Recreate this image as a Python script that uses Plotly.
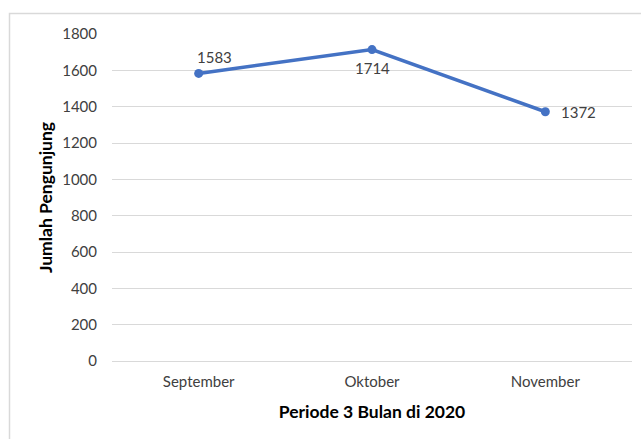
import plotly.graph_objects as go

months = ["September", "Oktober", "November"]
visitors = [1583, 1714, 1372]
label_dx = [16, 0, 33]
label_dy = [16, -18, 0]
y_ticks = [0, 200, 400, 600, 800, 1000, 1200, 1400, 1600, 1800]

FONT = "Lato, 'Open Sans', sans-serif"
TXT = "#404040"

fig = go.Figure()
fig.add_trace(go.Scatter(
    x=months, y=visitors, mode="lines+markers",
    line=dict(color="#4472C4", width=3.5),
    marker=dict(color="#4472C4", size=9),
    cliponaxis=False, showlegend=False,
))

annotations = [
    dict(x=m, y=v, text=str(v), showarrow=False, xshift=dx, yshift=dy,
         xanchor="center", yanchor="middle",
         font=dict(family=FONT, size=15, color=TXT))
    for m, v, dx, dy in zip(months, visitors, label_dx, label_dy)
]

L, R, T, B = 112, 9, 34, 78
W, H = 641, 439
pw, ph = W - L - R, H - T - B

fig.update_layout(
    width=W, height=H,
    margin=dict(l=L, r=R, t=T, b=B),
    paper_bgcolor="white", plot_bgcolor="white",
    font=dict(family=FONT, size=15, color=TXT),
    annotations=annotations,
    xaxis=dict(
        type="category", range=[-0.5, 2.5], showgrid=False, zeroline=False,
        showline=False, ticks="", tickfont=dict(family=FONT, size=15, color=TXT),
        ticklabelstandoff=10,
        title=dict(text="<b>Periode 3 Bulan di 2020</b>", standoff=16,
                   font=dict(family=FONT, size=17.5, color="#000000")),
    ),
    yaxis=dict(
        range=[0, 1800], tickvals=y_ticks, showgrid=True, gridcolor="#D9D9D9",
        gridwidth=1, zeroline=True, zerolinecolor="#D9D9D9", zerolinewidth=1,
        showline=False, ticks="", tickfont=dict(family=FONT, size=15, color=TXT),
        ticklabelstandoff=14,
        title=dict(text="<b>Jumlah Pengunjung</b>", standoff=5,
                   font=dict(family=FONT, size=17.5, color="#000000")),
    ),
    shapes=[dict(
        type="rect", xref="paper", yref="paper",
        x0=(9.5 - L) / pw, x1=(W + 5 - L) / pw,
        y0=-(H + 5 - (H - B)) / ph, y1=1 + (T - 13.5) / ph,
        line=dict(color="#D9D9D9", width=1.5), fillcolor="rgba(0,0,0,0)",
        layer="above",
    )],
)

fig.write_html(
    "out.html",
    config={"displayModeBar": False},
    post_script="document.body.style.margin='0';document.body.style.overflow='hidden';",
)
